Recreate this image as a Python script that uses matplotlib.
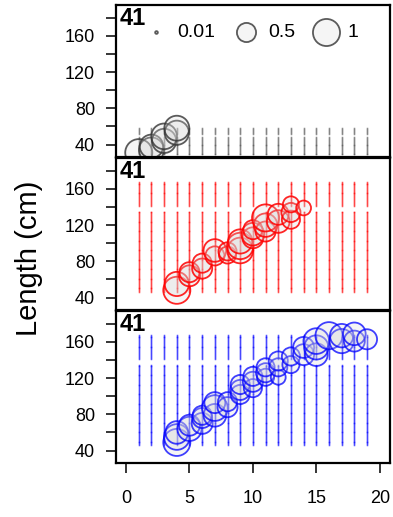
"""
Conditional age-at-length bubble plot: three panels (grey, red, blue) for sample 41.
"""
import matplotlib
matplotlib.use('Agg')
import matplotlib.pyplot as plt
import numpy as np

# ── Data ─────────────────────────────────────────────
panel_label = '41'
all_ages = list(range(1, 20))

# length bins with samples (tiny dots), per panel
bins_top = [b for b in range(29, 59) if b not in (49, 50, 51)]
bins_lower = [b for b in range(46, 169) if b not in (136, 137, 138, 139, 140, 145)]

# grey panel
ages_grey = [1, 2, 2, 3, 3, 4, 4]
lens_grey = [31, 34, 38, 44, 49, 53, 58]
props_grey = [1.0, 0.85, 0.75, 0.8, 0.9, 0.8, 0.85]

# red panel
ages_red = [4, 4, 5, 5, 6, 6, 7, 7, 8, 8, 9, 9, 9, 10, 10, 10,
            11, 11, 11, 12, 12, 13, 13, 13, 14]
lens_red = [48, 55, 64, 68, 72, 78, 86, 92, 87, 91, 92, 97, 102, 106, 110, 115,
            113, 120, 128, 124, 132, 126, 134, 143, 139]
props_red = [1.0, 0.8, 0.6, 0.55, 0.55, 0.5, 0.5, 0.7, 0.4, 0.45, 0.9, 0.95, 0.8,
             0.6, 0.7, 0.5, 0.55, 0.75, 1.0, 0.7, 0.6, 0.45, 0.5, 0.35, 0.3]

# blue panel
ages_blue = [4, 4, 4, 5, 5, 6, 6, 6, 7, 7, 7, 8, 8, 9, 9, 9, 10, 10, 10,
             11, 11, 11, 12, 12, 12, 13, 13, 14, 14, 15, 15, 15, 16, 17, 17,
             18, 18, 19]
lens_blue = [49, 55, 60, 64, 68, 70, 76, 79, 79, 87, 93, 88, 94, 102, 107, 113,
             109, 116, 122, 121, 126, 132, 121, 132, 139, 135, 144, 146, 154,
             146, 154, 161, 167, 161, 167, 161, 169, 163]
props_blue = [1.0, 0.9, 0.7, 0.8, 0.6, 0.6, 0.55, 0.5, 0.7, 0.9, 0.6, 0.55, 0.5,
              0.5, 0.55, 0.5, 0.45, 0.55, 0.5, 0.4, 0.5, 0.45, 0.3, 0.45, 0.5,
              0.4, 0.45, 0.6, 0.6, 0.7, 0.8, 0.9, 1.0, 0.8, 0.75, 0.6, 0.7, 0.55]

legend_props = [0.01, 0.5, 1]

# ── Style ────────────────────────────────────────────
plt.rcParams['font.family'] = ['Liberation Sans', 'DejaVu Sans']
SIZE_SCALE = 380          # points^2 for proportion 1
FILL = (0.85, 0.85, 0.85, 0.25)


def draw_panel(ax, bins, ages, lens, props, color, edge):
    # tiny dots at every age/length bin that was sampled
    for a in all_ages:
        ax.plot([a] * len(bins), bins, linestyle='none', marker='s',
                markersize=1.1, markeredgewidth=0, color=color, alpha=0.6, zorder=1)
    ax.scatter(ages, lens, s=[SIZE_SCALE * p for p in props], facecolor=FILL,
               edgecolor=edge, linewidth=1.3, zorder=2)
    ax.text(0.012, 0.99, panel_label, transform=ax.transAxes, fontsize=17,
            fontweight='bold', ha='left', va='top')
    ax.set_xlim(-0.8, 20.8)
    ax.set_ylim(26, 194)
    ax.set_yticks([40, 80, 120, 160])
    ax.set_yticks([60, 100, 140, 180], minor=True)
    ax.tick_params(axis='y', which='both', length=7, width=1.1, pad=8, labelsize=13)
    for s in ax.spines.values():
        s.set_linewidth(1.6)


def main():
    fig = plt.figure(figsize=(3.93, 5.17), dpi=100)
    left, width = 0.295, 0.697
    tops = [0.990, 0.694, 0.398]
    h = 0.294
    axes = [fig.add_axes([left, t - h, width, h]) for t in tops]

    draw_panel(axes[0], bins_top, ages_grey, lens_grey, props_grey, '#555555', (0.2, 0.2, 0.2, 0.8))
    draw_panel(axes[1], bins_lower, ages_red, lens_red, props_red, '#ff0000', (1, 0, 0, 0.85))
    draw_panel(axes[2], bins_lower, ages_blue, lens_blue, props_blue, '#0000ff', (0, 0, 1, 0.75))

    # bubble legend in top panel
    handles = [axes[0].scatter([], [], s=SIZE_SCALE * p, facecolor=FILL,
                               edgecolor=(0.2, 0.2, 0.2, 0.8), linewidth=1.3)
               for p in legend_props]
    axes[0].legend(handles, [str(p) for p in legend_props], ncol=3, loc='upper center',
                   bbox_to_anchor=(0.48, 0.97), frameon=False, fontsize=14,
                   handletextpad=0.1, columnspacing=0.6, borderaxespad=0.3)

    for ax in axes[:2]:
        ax.set_xticks([])
    axes[2].set_xticks([0, 5, 10, 15, 20])
    axes[2].tick_params(axis='x', length=7, width=1.1, pad=12, labelsize=13)

    fig.text(0.075, 0.5, 'Length (cm)', rotation=90, ha='center', va='center', fontsize=21)

    fig.savefig('out.png', dpi=100)
    plt.close(fig)


if __name__ == '__main__':
    main()
